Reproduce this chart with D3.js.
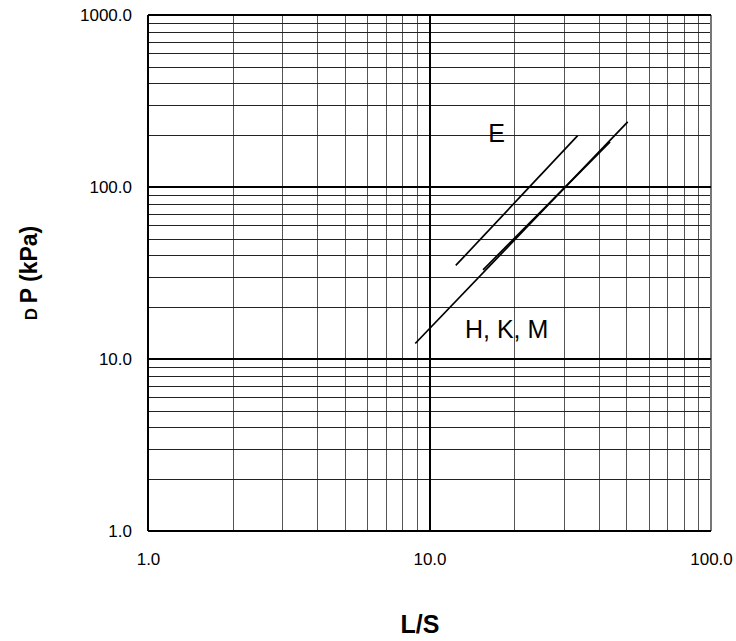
<!DOCTYPE html>
<html><head><meta charset="utf-8">
<script src="https://cdn.jsdelivr.net/npm/d3@7"></script>
<style>body{margin:0;background:#fff}svg{display:block}</style>
</head><body><svg id="c" width="736" height="641"></svg>
<script>
const xTicks = [1, 10, 100];
const yTicks = [1, 10, 100, 1000];
const xTickLabels = ["1.0", "10.0", "100.0"];
const yTickLabels = ["1.0", "10.0", "100.0", "1000.0"];
const seriesNames = ["E", "H", "K, M"];
const seriesE = [[12.4, 35], [33.6, 199]];
const seriesH = [[8.9, 12.3], [50.6, 239]];
const seriesKM = [[15.5, 33], [43.8, 183]];
const labels = [{text: "E", x: 17.3, y: 183}, {text: "H, K, M", x: 18.8, y: 13.2}];

const svg = d3.select("#c");
const m = {l: 148, r: 711, t: 15, b: 531};
const x = d3.scaleLog().domain([1, 100]).range([m.l, m.r]);
const y = d3.scaleLog().domain([1, 1000]).range([m.b, m.t]);
const FONT = "Liberation Sans, Arial, sans-serif";

const minorX = [], minorY = [];
for (let d = 1; d < 100; d *= 10) for (let k = 2; k <= 9; k++) minorX.push(d * k);
for (let d = 1; d < 1000; d *= 10) for (let k = 2; k <= 9; k++) minorY.push(d * k);

const g = svg.append("g");
g.selectAll(".mx").data(minorX).enter().append("line")
  .attr("x1", d => Math.round(x(d)) + 0.5).attr("x2", d => Math.round(x(d)) + 0.5)
  .attr("y1", m.t).attr("y2", m.b).attr("stroke", "#555").attr("stroke-width", 1);
g.selectAll(".my").data(minorY).enter().append("line")
  .attr("y1", d => Math.round(y(d)) + 0.5).attr("y2", d => Math.round(y(d)) + 0.5)
  .attr("x1", m.l).attr("x2", m.r).attr("stroke", "#222").attr("stroke-width", 1);
g.selectAll(".Mx").data(xTicks).enter().append("line")
  .attr("x1", d => Math.round(x(d))).attr("x2", d => Math.round(x(d)))
  .attr("y1", m.t).attr("y2", m.b).attr("stroke", d => d === 100 ? "#777" : "#000").attr("stroke-width", 2);
g.selectAll(".My").data(yTicks).enter().append("line")
  .attr("y1", d => Math.round(y(d))).attr("y2", d => Math.round(y(d)))
  .attr("x1", m.l).attr("x2", m.r).attr("stroke", "#000").attr("stroke-width", 2);

const xAxis = d3.axisBottom(x).tickValues(xTicks).tickSize(0).tickPadding(0)
  .tickFormat((d, i) => xTickLabels[i]);
const xa = svg.append("g").attr("transform", `translate(0,${m.b + 28})`).call(xAxis);
xa.select(".domain").remove();
xa.selectAll("text").attr("font-family", FONT).attr("font-size", 17).attr("fill", "#000").attr("dy", "0.35em");

const yAxis = d3.axisLeft(y).tickValues(yTicks).tickSize(0).tickPadding(0)
  .tickFormat((d, i) => yTickLabels[i]);
const ya = svg.append("g").attr("transform", `translate(${m.l - 16},0)`).call(yAxis);
ya.select(".domain").remove();
ya.selectAll("text").attr("font-family", FONT).attr("font-size", 17).attr("fill", "#000").attr("dy", "0.35em");

const line = d3.line().x(d => x(d[0])).y(d => y(d[1]));
[seriesE, seriesH, seriesKM].forEach(s => {
  svg.append("path").datum(s).attr("d", line).attr("fill", "none")
    .attr("stroke", "#000").attr("stroke-width", 1.7);
});

labels.forEach(l => {
  svg.append("text").attr("x", x(l.x)).attr("y", y(l.y)).attr("text-anchor", "middle")
    .attr("font-family", FONT).attr("font-size", 25).text(l.text);
});

svg.append("text").attr("x", 420).attr("y", 633).attr("text-anchor", "middle")
  .attr("font-family", FONT).attr("font-weight", "bold").attr("font-size", 25).text("L/S");

const yt = svg.append("text").attr("transform", "translate(37,273) rotate(-90)").attr("text-anchor", "middle")
  .attr("font-family", FONT).attr("font-weight", "bold");
yt.append("tspan").attr("font-size", 17).text("D ");
yt.append("tspan").attr("font-size", 23).text("P (kPa)");
</script></body></html>
